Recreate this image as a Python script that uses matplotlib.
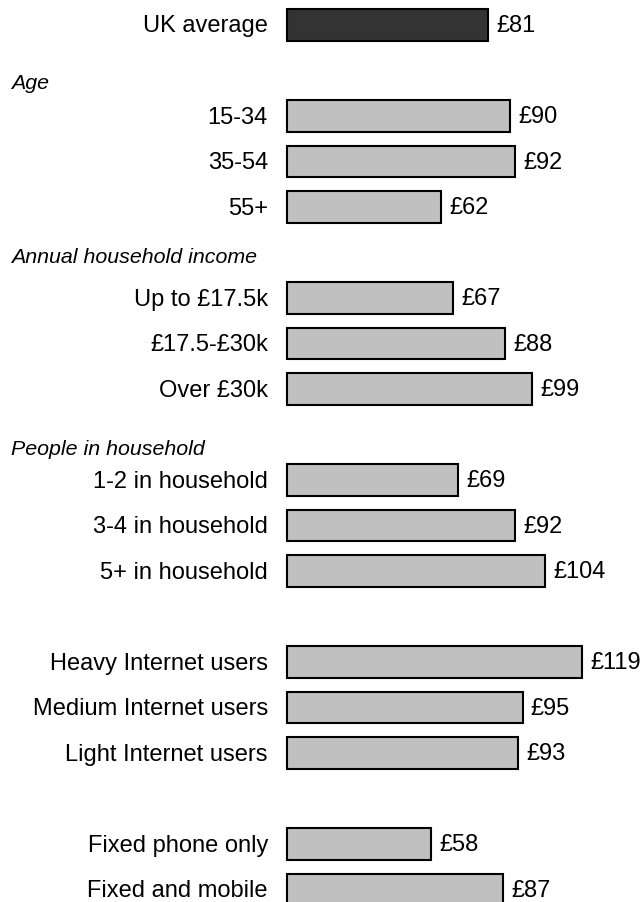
import matplotlib
matplotlib.use("Agg")
import matplotlib.pyplot as plt
import matplotlib.transforms as mtransforms

plt.rcParams['font.family'] = ['Liberation Sans', 'DejaVu Sans']

# Average monthly spend per household, by group
labels = ["UK average",
          "15-34", "35-54", "55+",
          "Up to £17.5k", "£17.5-£30k", "Over £30k",
          "1-2 in household", "3-4 in household", "5+ in household",
          "Heavy Internet users", "Medium Internet users", "Light Internet users",
          "Fixed phone only", "Fixed and mobile"]
values = [81,
          90, 92, 62,
          67, 88, 99,
          69, 92, 104,
          119, 95, 93,
          58, 87]
# row slot for each bar (gaps leave room for the group headings)
rows = [0, 2, 3, 4, 6, 7, 8, 10, 11, 12, 14, 15, 16, 18, 19]

headers = ["Age", "Annual household income", "People in household"]
header_rows = [1.27, 5.08, 9.3]

colors = ['#333333'] + ['#c0c0c0'] * (len(values) - 1)

fig = plt.figure(figsize=(6.44, 9.03), dpi=100)
ax = fig.add_axes([0.4461, 0, 1 - 0.4461, 1])

bars = ax.barh(rows, values, height=0.69, color=colors, edgecolor='black', linewidth=1.5)
for b in bars:
    b.set_clip_on(False)

for r, v in zip(rows, values):
    ax.annotate(f"£{v}", xy=(v, r), xytext=(6, 0), textcoords='offset points',
                va='center', ha='left', fontsize=17)

ax.set_yticks(rows)
ax.set_yticklabels(labels, fontsize=17)
ax.tick_params(axis='y', length=0, pad=13.9)
ax.set_xticks([])

# nudge category labels up a little so they sit level with the bars
shift = mtransforms.ScaledTranslation(0, 2 / 100, fig.dpi_scale_trans)
for lbl in ax.get_yticklabels():
    lbl.set_transform(lbl.get_transform() + shift)

trans = mtransforms.blended_transform_factory(fig.transFigure, ax.transData)
for h, r in zip(headers, header_rows):
    ax.text(11 / 644, r, h, transform=trans, fontsize=15.4, style='italic',
            ha='left', va='center', clip_on=False)

ax.set_xlim(0, 144.06)
ax.set_ylim(19.27, -0.571)
for s in ax.spines.values():
    s.set_visible(False)

fig.savefig("out.png", dpi=100)
